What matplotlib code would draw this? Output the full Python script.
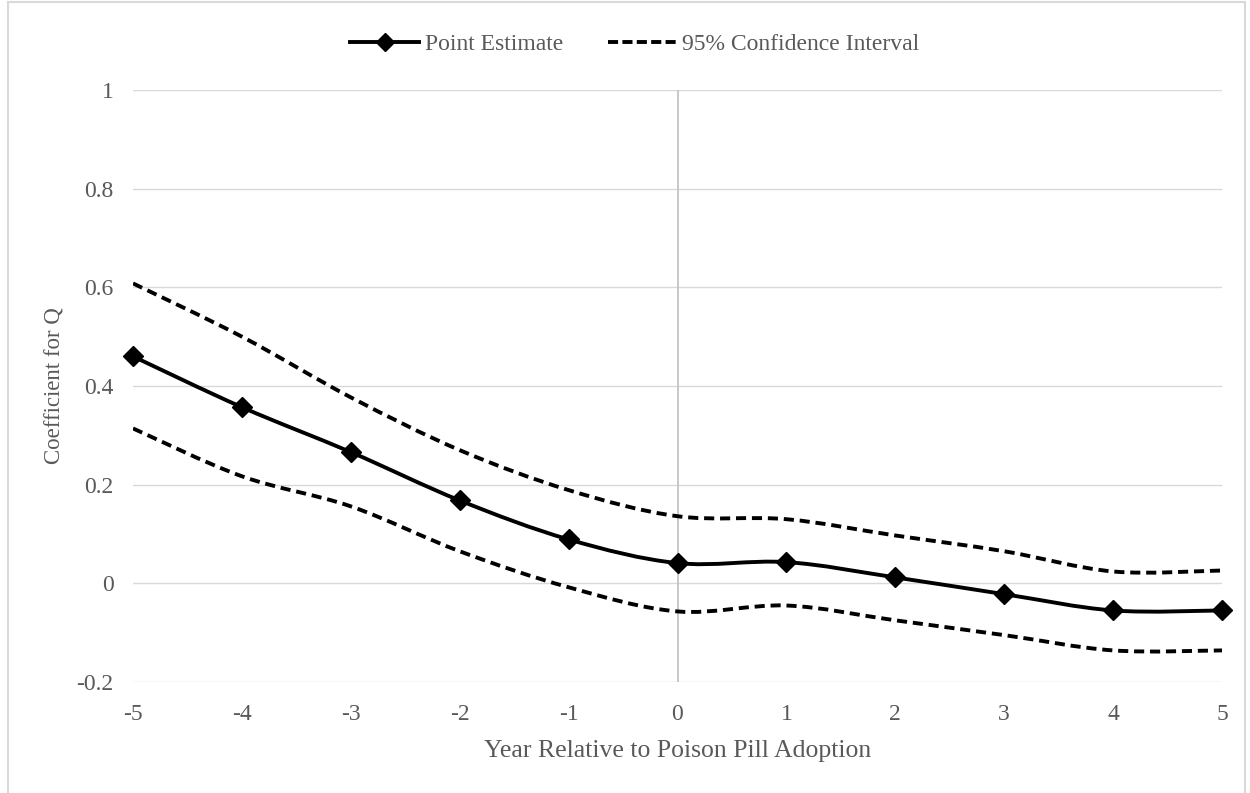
import matplotlib.pyplot as plt
import numpy as np
from matplotlib.path import Path
from matplotlib.patches import PathPatch, Rectangle
from matplotlib.lines import Line2D

plt.rcParams['font.family'] = ['Liberation Serif', 'DejaVu Serif']

years = [-5, -4, -3, -2, -1, 0, 1, 2, 3, 4, 5]
point_est = [0.460, 0.357, 0.266, 0.168, 0.089, 0.041, 0.043, 0.012, -0.022, -0.055, -0.055]
ci_upper = [0.608, 0.500, 0.377, 0.270, 0.189, 0.136, 0.130, 0.097, 0.065, 0.024, 0.026]
ci_lower = [0.314, 0.217, 0.156, 0.065, -0.008, -0.057, -0.045, -0.075, -0.105, -0.136, -0.136]

yticks = [-0.2, 0, 0.2, 0.4, 0.6, 0.8, 1]
ytick_labels = ['-0.2', '0', '0.2', '0.4', '0.6', '0.8', '1']

grey = '#595959'


def smooth_path(x, y):
    # Excel-style smoothed line: cubic bezier through every point
    p = np.column_stack([x, y]).astype(float)
    n = len(p)
    verts = [p[0]]
    codes = [Path.MOVETO]
    for i in range(n - 1):
        p0 = p[i - 1] if i > 0 else p[i]
        p3 = p[i + 2] if i + 2 < n else p[i + 1]
        c1 = p[i] + (p[i + 1] - p0) / 6
        c2 = p[i + 1] - (p3 - p[i]) / 6
        verts += [c1, c2, p[i + 1]]
        codes += [Path.CURVE4] * 3
    return Path(verts, codes)


fig = plt.figure(figsize=(12.5, 7.93), dpi=100)
ax = fig.add_axes([0.1064, 0.14, 0.8712, 0.7465])

ax.set_xlim(-5, 5)
ax.set_ylim(-0.2, 1)
ax.set_yticks(yticks)
ax.set_yticklabels(ytick_labels)
ax.set_xticks(years)
ax.set_xticklabels([str(v) for v in years])
for v in yticks:
    ax.axhline(v, color='#d9d9d9', lw=1.0, zorder=0)
ax.axvline(0, color='#bfbfbf', lw=1.2, zorder=0)
for s in ax.spines.values():
    s.set_visible(False)
ax.tick_params(length=0, labelsize=17, colors=grey)
ax.tick_params(axis='y', pad=14)
ax.tick_params(axis='x', pad=16)

for ys in (ci_upper, ci_lower):
    ax.add_patch(PathPatch(smooth_path(years, ys), fill=False, color='black',
                           lw=2.8, linestyle=(0, (2.6, 1.5)), capstyle='butt', zorder=3))
ax.add_patch(PathPatch(smooth_path(years, point_est), fill=False, color='black',
                       lw=2.8, zorder=4))
ax.plot(years, point_est, 'D', color='black', ms=10, zorder=5, clip_on=False)

ax.set_xlabel('Year Relative to Poison Pill Adoption', fontsize=18.5, color=grey, labelpad=11)
ax.set_ylabel('Coefficient for Q', fontsize=16.5, color=grey, labelpad=8)

handles = [Line2D([], [], color='black', lw=2.8, marker='D', ms=9),
           Line2D([], [], color='black', lw=2.8, linestyle=(0, (2.6, 1.1)))]
fig.legend(handles, ['Point Estimate', '95% Confidence Interval'], loc='center',
           bbox_to_anchor=(0.508, 0.944), ncol=2, frameon=False, fontsize=17,
           labelcolor=grey, handlelength=2.9, columnspacing=1.9, handletextpad=0.25)

fig.patches.append(Rectangle((0.006, -0.01), 0.99, 1.007, transform=fig.transFigure,
                             fill=False, edgecolor='#d9d9d9', lw=1.5))

plt.savefig('out.png', dpi=100)
